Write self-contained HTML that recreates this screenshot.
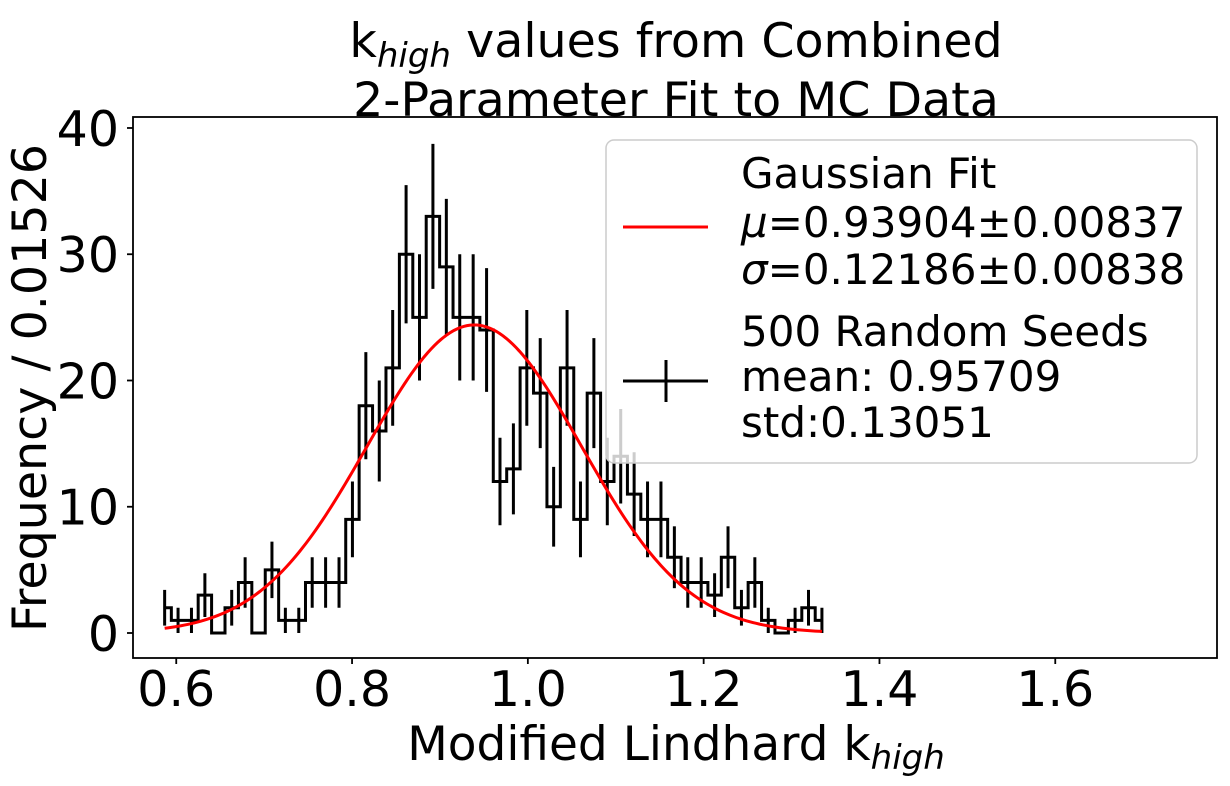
<!DOCTYPE html>
<html><head><meta charset="utf-8"><style>
html,body{margin:0;padding:0;background:#fff;}
svg{display:block;font-family:"DejaVu Sans","Liberation Sans",sans-serif;}
</style></head>
<body>
<svg id="chart" width="1230" height="786" viewBox="0 0 1230 786" xmlns="http://www.w3.org/2000/svg">
  <rect width="1230" height="786" fill="#fff"/>
  <g font-size="47.5" text-anchor="middle" fill="#000">
    <text x="676" y="57">k<tspan font-style="italic" font-size="34" dy="10">high</tspan><tspan dy="-10"> values from Combined</tspan></text>
    <text x="676" y="116">2-Parameter Fit to MC Data</text>
  </g>
  <g id="plot"></g>
  <rect x="133" y="117" width="1084" height="541" fill="none" stroke="#000" stroke-width="1.8"/>
  <g id="xticks"></g>
  <g id="yticks"></g>
  <text x="676" y="760" font-size="47" text-anchor="middle">Modified Lindhard k<tspan font-style="italic" font-size="34" dy="9">high</tspan></text>
  <text transform="translate(46,388) rotate(-90)" font-size="47.5" text-anchor="middle">Frequency / 0.01526</text>
  <g>
    <rect x="606" y="140" width="591" height="323" rx="8" fill="#fff" fill-opacity="0.8" stroke="#ccc" stroke-width="1.5"/>
    <line x1="623" y1="227" x2="708" y2="227" stroke="#f00" stroke-width="3"/>
    <g font-size="42" fill="#000">
      <text x="741" y="188">Gaussian Fit</text>
      <text x="741" y="237"><tspan font-style="italic">μ</tspan>=0.93904±0.00837</text>
      <text x="741" y="284"><tspan font-style="italic">σ</tspan>=0.12186±0.00838</text>
    </g>
    <g stroke="#000" stroke-width="3">
      <line x1="623" y1="381" x2="708" y2="381"/>
      <line x1="666" y1="360" x2="666" y2="402"/>
    </g>
    <g font-size="42" fill="#000">
      <text x="741" y="346">500 Random Seeds</text>
      <text x="741" y="391">mean: 0.95709</text>
      <text x="741" y="437">std:0.13051</text>
    </g>
  </g>
</svg>
<script>
const binStart = 0.5868;
const binWidth = 0.01526;
const counts = [2,1,1,3,0,2,4,0,5,1,1,4,4,4,9,18,16,21,30,25,33,29,25,25,24,12,13,21,19,10,21,9,19,12,14,11,9,9,6,4,4,3,6,2,4,1,0,1,2,1];
const xTicks = [0.6,0.8,1.0,1.2,1.4,1.6];
const xTickLabels = ["0.6","0.8","1.0","1.2","1.4","1.6"];
const yTicks = [0,10,20,30,40];
const yTickLabels = ["0","10","20","30","40"];
const fitMu = [0.93904];
const fitSigma = [0.12186];
const fitAmp = [24.4];

const NS = "http://www.w3.org/2000/svg";
const X0 = 133, X1 = 1217, Y0 = 658, Y1 = 117;
const xMin = 0.5508, xMax = 1.7840, yMin = -1.98, yMax = 40.87;
function xs(v){ return X0 + (v - xMin) / (xMax - xMin) * (X1 - X0); }
function ys(v){ return Y0 - (v - yMin) / (yMax - yMin) * (Y0 - Y1); }
function mk(tag, attrs, parent){ const e = document.createElementNS(NS, tag); for (const k in attrs) e.setAttribute(k, attrs[k]); parent.appendChild(e); return e; }

const plot = document.getElementById('plot');
const centers = counts.map((c,i)=> binStart + i*binWidth);

let d = "";
centers.forEach((c,i)=>{
  const y = ys(counts[i]);
  const left = i===0 ? c : c - binWidth/2;
  const right = i===counts.length-1 ? c : c + binWidth/2;
  d += (i===0 ? "M" : "L") + xs(left).toFixed(2) + "," + y.toFixed(2) + "L" + xs(right).toFixed(2) + "," + y.toFixed(2);
});
const step = mk('path', {d:d, fill:'none', stroke:'#000', 'stroke-width':3}, plot);



centers.forEach((c,i)=>{
  const e = Math.sqrt(counts[i]);
  if (e === 0) return;
  const ln = mk('line', {x1:xs(c), x2:xs(c), y1:ys(counts[i]-e), y2:ys(counts[i]+e), stroke:'#000', 'stroke-width':3}, plot);
  
  
});

let g = "";
const a = centers[0], b = centers[centers.length-1];
for (let k=0;k<=200;k++){
  const x = a + (b-a)*k/200;
  const y = fitAmp[0]*Math.exp(-0.5*Math.pow((x-fitMu[0])/fitSigma[0],2));
  g += (k===0?"M":"L") + xs(x).toFixed(2) + "," + ys(y).toFixed(2);
}
const fit = mk('path', {d:g, fill:'none', stroke:'#f00', 'stroke-width':3}, plot);



const xt = document.getElementById('xticks');
xTicks.forEach((v,i)=>{
  const x = xs(v);
  const t = mk('line', {x1:x, x2:x, y1:Y0, y2:Y0+6, stroke:'#000', 'stroke-width':1.8}, xt);
  
  
  const l = mk('text', {x:x, y:706, 'font-size':49, 'text-anchor':'middle'}, xt);
  l.textContent = xTickLabels[i];
  
  
});
const yt = document.getElementById('yticks');
yTicks.forEach((v,i)=>{
  const y = ys(v);
  const t = mk('line', {x1:X0-6, x2:X0, y1:y, y2:y, stroke:'#000', 'stroke-width':1.8}, yt);
  
  
  const l = mk('text', {x:119, y:y+18, 'font-size':49, 'text-anchor':'end'}, yt);
  l.textContent = yTickLabels[i];
  
  
});
</script>
</body></html>
